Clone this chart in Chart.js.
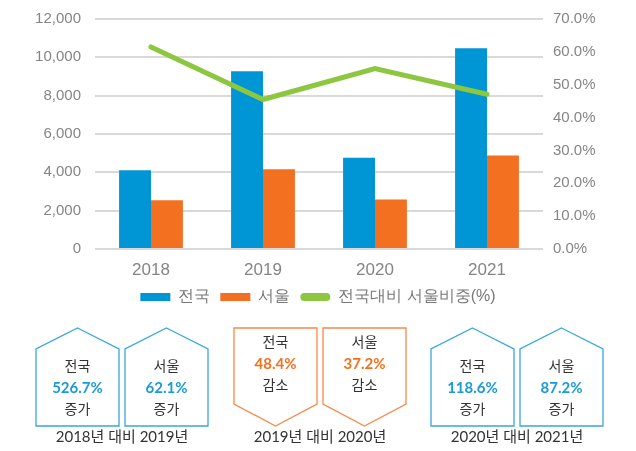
<!DOCTYPE html>
<html>
<head>
<meta charset="utf-8">
<script src="https://cdn.jsdelivr.net/npm/chart.js@4"></script>
<style>
  html, body { margin: 0; padding: 0; background: #fff; }
  body { width: 636px; height: 451px; position: relative; overflow: hidden;
         font-family: Lato, "Noto Sans CJK KR", sans-serif; }
  #wrap { position: absolute; left: 0; top: -4px; width: 636px; height: 319px; }
  #notes { position: absolute; left: 0; top: 0; }
</style>
</head>
<body>
<div id="wrap"><canvas id="chart"></canvas></div>
<svg id="notes" width="636" height="451"></svg>
<script>
// chart data
const years = ['2018', '2019', '2020', '2021'];
const national = [4110, 9280, 4760, 10480];
const seoul = [2550, 4160, 2580, 4880];
const seoulShare = [61.5, 45.5, 54.9, 47.1];
const seriesNames = ['전국', '서울', '전국대비 서울비중(%)'];

// annotation boxes below the chart
const noteGroups = ['2018년 대비 2019년', '2019년 대비 2020년', '2020년 대비 2021년'];
const noteRegions = [['전국', '서울'], ['전국', '서울'], ['전국', '서울']];
const noteValues = [['526.7%', '62.1%'], ['48.4%', '37.2%'], ['118.6%', '87.2%']];
const noteWords = ['증가', '감소', '증가'];

const BLUE = '#0096d6';
const ORANGE = '#f37021';
const GREEN = '#8dc63f';
const TICK = '#858585';

const ctx = document.getElementById('chart').getContext('2d');
new Chart(ctx, {
    data: {
        labels: years,
        datasets: [
            { type: 'bar', label: seriesNames[0], data: national, backgroundColor: BLUE,
              yAxisID: 'y', order: 2, categoryPercentage: 0.57, barPercentage: 1.0 },
            { type: 'bar', label: seriesNames[1], data: seoul, backgroundColor: ORANGE,
              yAxisID: 'y', order: 2, categoryPercentage: 0.57, barPercentage: 1.0 },
            { type: 'line', label: seriesNames[2], data: seoulShare, borderColor: GREEN,
              backgroundColor: GREEN, borderWidth: 5, pointRadius: 0, tension: 0,
              borderCapStyle: 'round', yAxisID: 'y1', order: 1 }
        ]
    },
    options: {
        responsive: true,
        maintainAspectRatio: false,
        animation: false,
        layout: { padding: { top: 10, left: 0, right: 0, bottom: 0 } },
        scales: {
            x: {
                grid: { display: false },
                border: { display: false },
                ticks: { color: TICK, font: { size: 17 }, padding: 3 },
                afterFit: s => { s.height = 30; }
            },
            y: {
                position: 'left',
                min: 0, max: 12000,
                ticks: { stepSize: 2000, color: TICK, font: { size: 15 }, padding: 14,
                         callback: v => v.toLocaleString('en-US') },
                grid: { color: '#d9d9d9', lineWidth: 2, drawTicks: false },
                border: { display: false },
                afterFit: s => { s.width = 95; }
            },
            y1: {
                position: 'right',
                min: 0, max: 70,
                ticks: { stepSize: 10, color: TICK, font: { size: 15 }, padding: 10,
                         callback: v => v.toFixed(1) + '%' },
                grid: { display: false, drawTicks: false },
                border: { display: false },
                afterFit: s => { s.width = 93; }
            }
        },
        plugins: {
            legend: {
                position: 'bottom',
                labels: {
                    color: '#777',
                    font: { size: 16 },
                    boxWidth: 30,
                    boxHeight: 8,
                    padding: 10,
                    generateLabels: chart => chart.data.datasets.map((d, i) => ({
                        text: d.label,
                        fillStyle: d.type === 'line' ? GREEN : d.backgroundColor,
                        strokeStyle: d.type === 'line' ? GREEN : d.backgroundColor,
                        lineWidth: 0,
                        borderRadius: d.type === 'line' ? 4 : 0,
                        fontColor: '#777',
                        datasetIndex: i,
                        hidden: false
                    })),
                    useBorderRadius: true
                }
            },
            tooltip: { enabled: false }
        }
    }
});

// draw the house-shaped notes
const svg = document.getElementById('notes');
const NS = 'http://www.w3.org/2000/svg';
const boxLefts = [[36, 125], [234, 323], [431, 520]];
const boxW = 83;
function addText(x, y, str, size, color, weight) {
    const t = document.createElementNS(NS, 'text');
    t.setAttribute('x', x);
    t.setAttribute('y', y);
    t.setAttribute('text-anchor', 'middle');
    t.setAttribute('dominant-baseline', 'middle');
    t.setAttribute('font-size', size);
    t.setAttribute('fill', color);
    t.setAttribute('font-weight', weight || 'normal');
    t.setAttribute('font-family', 'Lato, "Noto Sans CJK KR", sans-serif');
    t.textContent = str;
    svg.appendChild(t);
}
noteGroups.forEach((g, gi) => {
    const down = noteWords[gi] === '감소';
    const col = down ? ORANGE : '#1a9ad6';
    const lineCol = down ? '#f58a4b' : '#3aa7dc';
    boxLefts[gi].forEach((x0, bi) => {
        const x1 = x0 + boxW, xm = x0 + boxW / 2;
        let pts;
        if (down) {
            pts = `${x0},328 ${x1},328 ${x1},404 ${xm},426 ${x0},404`;
        } else {
            pts = `${xm},328 ${x1},349 ${x1},426 ${x0},426 ${x0},349`;
        }
        const p = document.createElementNS(NS, 'polygon');
        p.setAttribute('points', pts);
        p.setAttribute('fill', '#fff');
        p.setAttribute('stroke', lineCol);
        p.setAttribute('stroke-width', '1.3');
        svg.appendChild(p);
        const yTop = down ? 343 : 367;
        addText(xm, yTop, noteRegions[gi][bi], 14, '#333');
        addText(xm, yTop + 22, noteValues[gi][bi], 15, col, 'bold');
        addText(xm, yTop + 43, noteWords[gi], 14, '#333');
    });
    const cx = (boxLefts[gi][0] + boxLefts[gi][1] + boxW) / 2;
    addText(cx, 438, g, 15, '#333');
});
</script>
</body>
</html>
